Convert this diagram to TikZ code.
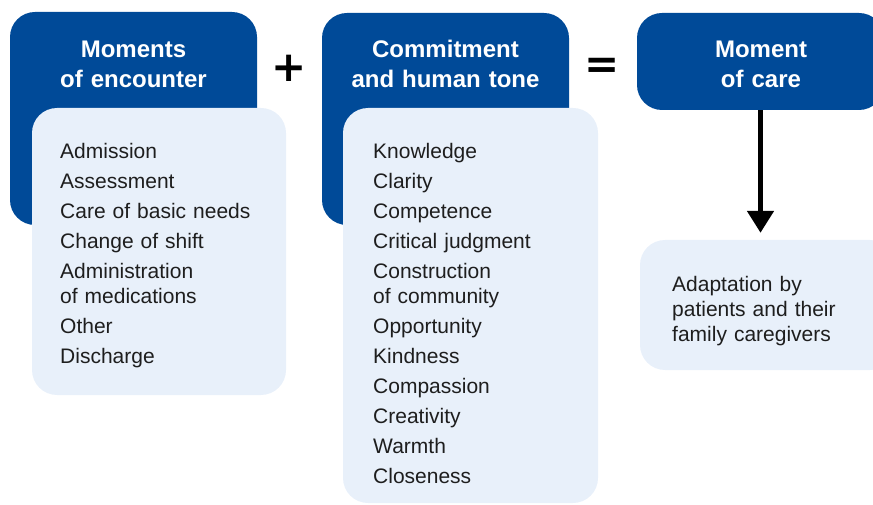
\documentclass[tikz,border=0pt]{standalone}
\usepackage{fontspec}
\setmainfont{Liberation Sans}
\newfontfamily\signfont{DejaVu Sans}
\usetikzlibrary{arrows.meta}
\definecolor{careblue}{HTML}{004A98}
\definecolor{carelight}{HTML}{E8F0FA}
\definecolor{careink}{HTML}{1E1E1E}

\begin{document}
\begin{tikzpicture}[x=1pt,y=-1pt,
	darkbox/.style={fill=careblue,rounded corners=25pt,inner sep=0pt},
	lightbox/.style={fill=carelight,rounded corners=25pt,inner sep=0pt},
	head/.style={text=white,font=\bfseries\fontsize{24}{30}\selectfont,align=center,text width=240pt,inner sep=0pt,anchor=base},
	items/.style={text=careink,font=\fontsize{21}{25}\selectfont,align=left,text width=220pt,inner sep=0pt,anchor=base west},
	sign/.style={font=\signfont\bfseries\fontsize{42}{42}\selectfont,inner sep=0pt}]
		\useasboundingbox (0,0) rectangle (873,505);
		% moments of encounter
		\node[darkbox,minimum width=247pt,minimum height=213pt] (enc) at (133.5,118.5) {};
		\node[head] (encT) at (133.5,58) {Moments\\of encounter};
		\node[lightbox,minimum width=254pt,minimum height=287pt] (encL) at (159,251.5) {};
		\node[items] (encI) at (60,159) {Admission\\[5pt]Assessment\\[5pt]Care of basic needs\\[5pt]Change of shift\\[5pt]Administration\\of medications\\[5pt]Other\\[5pt]Discharge};
		\node[sign] (plus) at (289,68) {+};
		% commitment and human tone
		\node[darkbox,minimum width=247pt,minimum height=212pt] (tone) at (445.5,119) {};
		\node[head] (toneT) at (445.5,58) {Commitment\\and human tone};
		\node[lightbox,minimum width=255pt,minimum height=395pt] (toneL) at (470.5,305.5) {};
		\node[items] (toneI) at (373,159) {Knowledge\\[5pt]Clarity\\[5pt]Competence\\[5pt]Critical judgment\\[5pt]Construction\\of community\\[5pt]Opportunity\\[5pt]Kindness\\[5pt]Compassion\\[5pt]Creativity\\[5pt]Warmth\\[5pt]Closeness};
		\node[sign] (equal) at (602,68) {=};
		% moment of care
		\node[darkbox,minimum width=247pt,minimum height=97pt] (care) at (760.5,61.5) {};
		\node[head] (careT) at (761,58) {Moment\\of care};
		\node[lightbox,minimum width=255pt,minimum height=130pt] (adapt) at (767.5,305) {};
		\node[items] (adaptI) at (672,291) {Adaptation by\\patients and their\\family caregivers};
		\draw[line width=5pt,-{Triangle[width=26pt,length=22pt]},shorten >=7pt] (care.south) -- (care.south |- adapt.north);
	\end{tikzpicture}
\end{document}
